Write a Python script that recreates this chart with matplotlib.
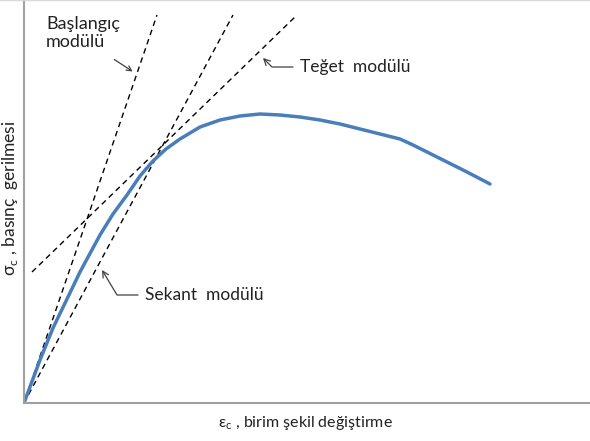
import matplotlib.pyplot as plt
from matplotlib.lines import Line2D

plt.rcParams['font.family'] = ['Lato', 'DejaVu Sans']

# gerilme-sekil degistirme egrisi (keyfi birimler)
birim_def = [0, 16, 29, 43, 56, 63, 76, 89, 103, 116, 129, 142, 156, 176,
             196, 216, 236, 256, 276, 296, 316, 336, 356, 376, 389, 409,
             443, 466]
gerilme = [0, 43, 75, 104, 131, 144, 168, 189, 208, 227, 242, 254, 264, 276,
           283, 287, 289, 288, 286, 283, 279, 274, 269, 264, 258, 248,
           231, 219]

# moduller (dogru uclari)
baslangic_x = [0, 133]
baslangic_y = [0, 388]
sekant_x = [0, 209]
sekant_y = [0, 388]
teget_x = [8, 273]
teget_y = [131, 388]

fig = plt.figure(figsize=(5.9, 4.41), dpi=100)
ax = fig.add_axes([24/590, 38/441, 566/590, 403/441])
ax.set_xlim(0, 566)
ax.set_ylim(0, 403)

kesikli = dict(color='black', lw=1.0, dashes=(4, 3))
ax.plot(baslangic_x, baslangic_y, **kesikli)
ax.plot(sekant_x, sekant_y, **kesikli)
ax.plot(teget_x, teget_y, **kesikli)
ax.plot(birim_def, gerilme, color='#4a7ebb', lw=2.5, solid_capstyle='round',
        solid_joinstyle='round')

ok = dict(arrowstyle='->,head_length=0.35,head_width=0.18', color='#404040', lw=0.9)
yazi = dict(fontsize=12.5, color='#222222')

ax.text(22, 370, 'Başlangıç\nmodülü', ha='left', va='center',
        linespacing=1.2, fontsize=13, color='#222222')
ax.annotate('', xy=(111, 330), xytext=(88, 345), arrowprops=ok)

ax.annotate('Teğet  modülü', xy=(239, 345), xytext=(276, 336),
            ha='left', va='center',
            arrowprops=dict(ok, connectionstyle='angle,angleA=0,angleB=-45,rad=0',
                            shrinkA=3, shrinkB=0), **yazi)
ax.annotate('Sekant  modülü', xy=(78, 133), xytext=(121, 108),
            ha='left', va='center',
            arrowprops=dict(ok, connectionstyle='angle,angleA=0,angleB=-59,rad=0',
                            shrinkA=3, shrinkB=0), **yazi)

ax.set_xticks([])
ax.set_yticks([])
for s in ['top', 'right']:
    ax.spines[s].set_visible(False)
for s in ['left', 'bottom']:
    ax.spines[s].set_color('#a0a0a0')
    ax.spines[s].set_linewidth(1.5)

ax.set_xlabel('ε$_\\mathregular{c}$ , birim şekil değiştirme', fontsize=11.5, color='#222222')
ax.xaxis.set_label_coords((305-24)/566, -(423-403)/403)
ax.xaxis.label.set_va('center')
ax.set_ylabel('σ$_\\mathregular{c}$ , basınç  gerilmesi', fontsize=12.5, color='#222222')
ax.yaxis.set_label_coords(-4/566, (403-198)/403)

fig.add_artist(Line2D([0, 1], [0.999, 0.999], color='#d8d8d8', lw=1))

fig.savefig('out.png', dpi=100)
